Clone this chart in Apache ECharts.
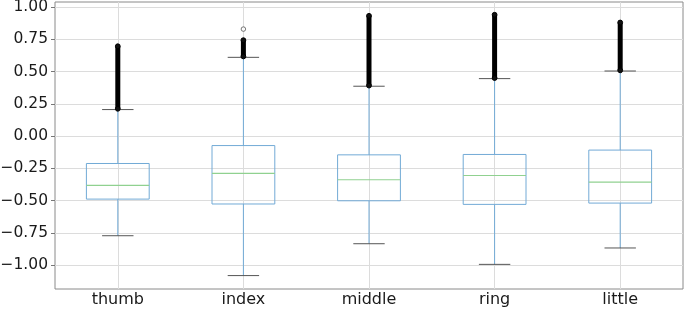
<!DOCTYPE html>
<html>
<head>
<meta charset="utf-8">
<script src="https://cdn.jsdelivr.net/npm/echarts@6/dist/echarts.min.js"></script>
<style>
html,body{margin:0;padding:0;background:#fff;}
#chart{width:685px;height:311px;}
</style>
</head>
<body>
<div id="chart"></div>
<script>
// ---- data ----
const categories   = ['thumb', 'index', 'middle', 'ring', 'little'];
const lowerWhisker = [-0.772, -1.081, -0.834, -0.994, -0.867];
const q1           = [-0.488, -0.526, -0.501, -0.529, -0.519];
const median       = [-0.382, -0.289, -0.338, -0.305, -0.356];
const q3           = [-0.212, -0.073, -0.145, -0.142, -0.108];
const upperWhisker = [0.206, 0.611, 0.387, 0.446, 0.505];
// dense stacks of outliers above the upper whisker (lowest / highest outlier)
const outlierLow   = [0.212, 0.618, 0.392, 0.450, 0.510];
const outlierHigh  = [0.697, 0.744, 0.933, 0.941, 0.881];
// isolated outliers: [category index, value]
const isolatedOutliers = [[1, 0.830]];
const yTicks = [-1.00, -0.75, -0.50, -0.25, 0.00, 0.25, 0.50, 0.75, 1.00];
const xTicks = [1, 2, 3, 4, 5];

const boxData = categories.map((c, i) => [i + 1, lowerWhisker[i], q1[i], median[i], q3[i], upperWhisker[i]]);
const outRangeData = categories.map((c, i) => [i + 1, outlierLow[i], outlierHigh[i]]);
const isoData = isolatedOutliers.map(d => [d[0] + 1, d[1]]);

const BOX_BLUE = '#72aad6';
const MED_GREEN = '#90d190';
const CAP_GRAY = '#555';

function fmtY(v) {
  const s = Math.abs(v).toFixed(2);
  return v < -1e-9 ? '\u2212' + s : s;
}

const chart = echarts.init(document.getElementById('chart'), null, {renderer: 'canvas'});
chart.setOption({
  animation: false,
  backgroundColor: '#fff',
  grid: {left: 55, right: 2, top: 2, bottom: 22, show: true, borderColor: '#8a8a8a', borderWidth: 1, backgroundColor: 'transparent', containLabel: false, outerBoundsMode: 'none'},
  xAxis: {
    type: 'value', min: 0.5, max: 5.5,
    axisLine: {show: false},
    axisTick: {show: false, customValues: xTicks},
    splitLine: {show: true, lineStyle: {color: '#dcdcdc', width: 1}},
    axisLabel: {customValues: xTicks, formatter: v => categories[Math.round(v) - 1] || '', fontFamily: 'DejaVu Sans', fontSize: 16, color: '#1a1a1a', margin: 3}
  },
  yAxis: {
    type: 'value', min: -1.185, max: 1.04,
    axisLine: {show: false},
    axisTick: {show: true, length: 4, customValues: yTicks, lineStyle: {color: '#777'}},
    splitLine: {show: true, lineStyle: {color: '#dcdcdc', width: 1}},
    axisLabel: {customValues: yTicks, formatter: fmtY, fontFamily: 'DejaVu Sans', fontSize: 15.5, color: '#1a1a1a', margin: 7}
  },
  series: [
    {
      type: 'custom',
      data: boxData,
      renderItem: function (params, api) {
        const x = api.value(0);
        const lw = api.value(1), b1 = api.value(2), md = api.value(3), b3 = api.value(4), uw = api.value(5);
        const pL = api.coord([x - 0.25, b3]);
        const pR = api.coord([x + 0.25, b1]);
        const cx = api.coord([x, 0])[0];
        const capL = api.coord([x - 0.125, 0])[0];
        const capR = api.coord([x + 0.125, 0])[0];
        const y = v => api.coord([x, v])[1];
        return {
          type: 'group',
          children: [
            {type: 'line', shape: {x1: cx, y1: y(b3), x2: cx, y2: y(uw)}, style: {stroke: BOX_BLUE, lineWidth: 1}},
            {type: 'line', shape: {x1: cx, y1: y(b1), x2: cx, y2: y(lw)}, style: {stroke: BOX_BLUE, lineWidth: 1}},
            {type: 'rect', shape: {x: pL[0], y: pL[1], width: pR[0] - pL[0], height: pR[1] - pL[1]}, style: {stroke: BOX_BLUE, fill: null, lineWidth: 1}},
            {type: 'line', shape: {x1: pL[0], y1: y(md), x2: pR[0], y2: y(md)}, style: {stroke: MED_GREEN, lineWidth: 1.2}},
            {type: 'line', shape: {x1: capL, y1: y(uw), x2: capR, y2: y(uw)}, style: {stroke: CAP_GRAY, lineWidth: 1}},
            {type: 'line', shape: {x1: capL, y1: y(lw), x2: capR, y2: y(lw)}, style: {stroke: CAP_GRAY, lineWidth: 1}}
          ]
        };
      }
    },
    {
      type: 'custom',
      data: outRangeData,
      z: 3,
      renderItem: function (params, api) {
        const x = api.value(0);
        const pLo = api.coord([x, api.value(1)]);
        const pHi = api.coord([x, api.value(2)]);
        return {
          type: 'group',
          children: [
            {type: 'line', shape: {x1: pLo[0], y1: pLo[1], x2: pHi[0], y2: pHi[1]}, style: {stroke: '#000', lineWidth: 5}},
            {type: 'circle', shape: {cx: pHi[0], cy: pHi[1], r: 2.4}, style: {fill: '#111', stroke: '#000', lineWidth: 1}},
            {type: 'circle', shape: {cx: pLo[0], cy: pLo[1], r: 2.4}, style: {fill: '#111', stroke: '#000', lineWidth: 1}}
          ]
        };
      }
    },
    {
      type: 'scatter',
      data: isoData,
      symbol: 'circle',
      symbolSize: 4.5,
      itemStyle: {color: '#fff', borderColor: '#555', borderWidth: 1},
      z: 4
    }
  ]
});
</script>
</body>
</html>
